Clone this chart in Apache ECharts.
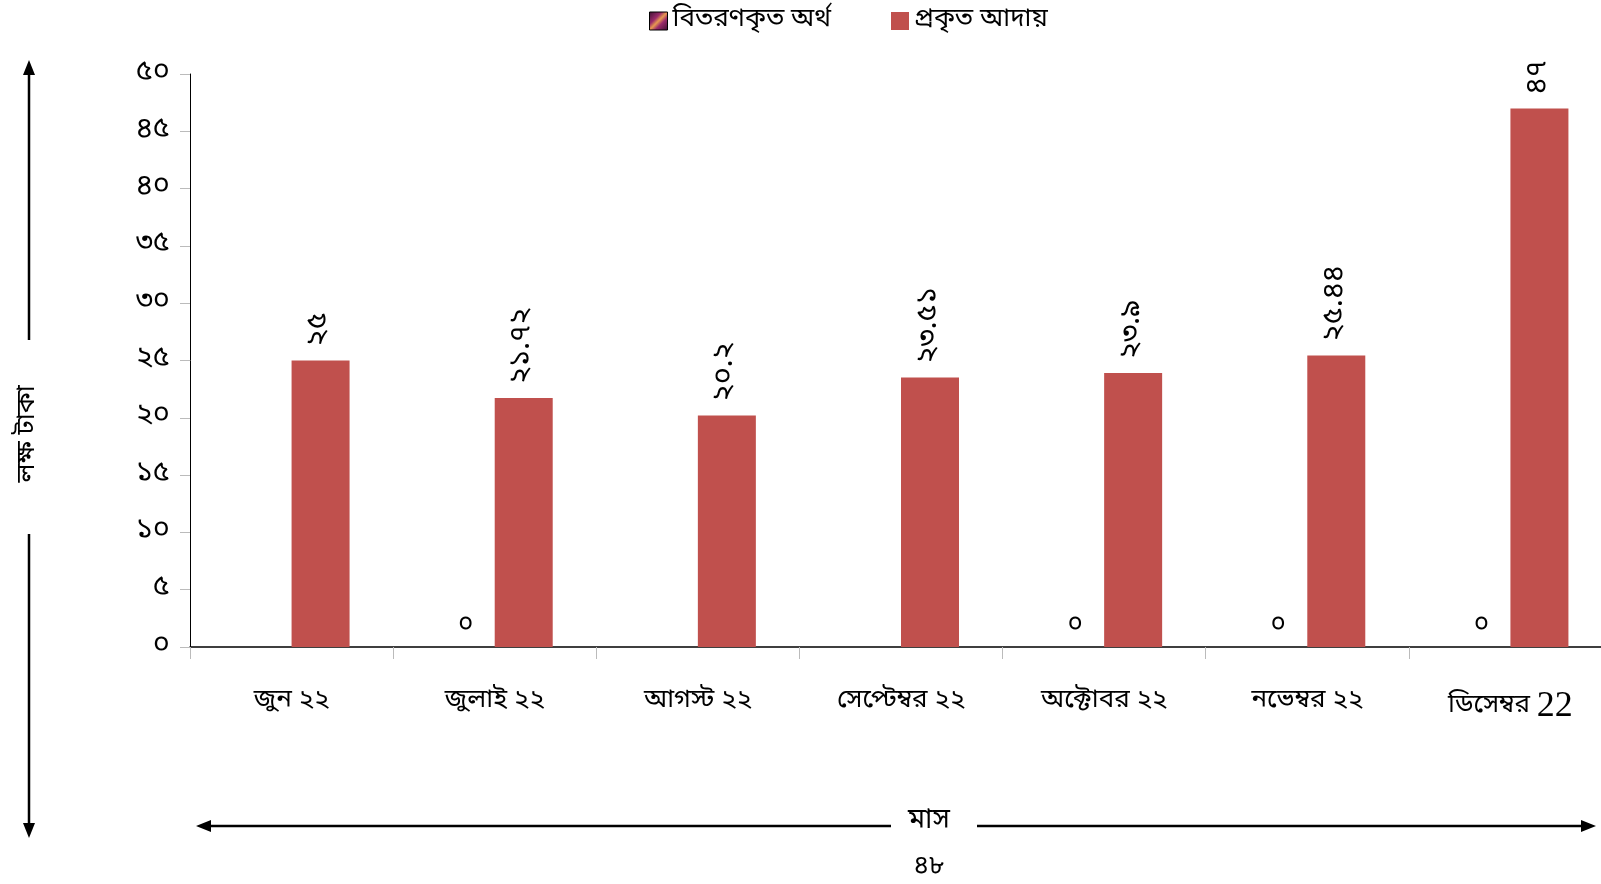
<!DOCTYPE html>
<html>
<head>
<meta charset="utf-8">
<script src="https://cdn.jsdelivr.net/npm/echarts@6/dist/echarts.min.js"></script>
<style>
  html, body { margin: 0; padding: 0; background: #fff; }
  #main { width: 1601px; height: 884px; }
</style>
</head>
<body>
<div id="main"></div>
<script>
// মাস (categories)
var months = ['জুন ২২', 'জুলাই ২২', 'আগস্ট ২২', 'সেপ্টেম্বর ২২', 'অক্টোবর ২২', 'নভেম্বর ২২', 'ডিসেম্বর 22'];
// বিতরণকৃত অর্থ - null where no label is shown
var disbursed = [null, 0, null, null, 0, 0, 0];
// প্রকৃত আদায়
var collected = [25, 21.72, 20.2, 23.51, 23.9, 25.44, 47];
// y tick labels (0..50 step 5)
var yTicks = ['০', '৫', '১০', '১৫', '২০', '২৫', '৩০', '৩৫', '৪০', '৪৫', '৫০'];

var BN = '"Noto Sans Bengali", "Lohit Bengali", "Noto Sans", sans-serif';
var bnDigits = ['০', '১', '২', '৩', '৪', '৫', '৬', '৭', '৮', '৯'];
function toBn(v) {
    return String(v).replace(/[0-9]/g, function (d) { return bnDigits[+d]; });
}

var chart = echarts.init(document.getElementById('main'));

var iconGrad = new echarts.graphic.LinearGradient(0, 0, 1, 1, [
    { offset: 0, color: '#3a1030' },
    { offset: 0.35, color: '#9a2a6a' },
    { offset: 0.5, color: '#e89a50' },
    { offset: 0.65, color: '#9a2a6a' },
    { offset: 1, color: '#3a1030' }
]);

chart.setOption({
    animation: false,
    backgroundColor: '#fff',
    legend: {
        top: 3,
        left: 644,
        itemWidth: 18,
        itemHeight: 18,
        itemGap: 60,
        icon: 'rect',
        textStyle: { fontFamily: BN, fontSize: 26, color: '#000' },
        data: [
            { name: 'বিতরণকৃত অর্থ', itemStyle: { color: iconGrad, borderColor: '#000', borderWidth: 1 } },
            { name: 'প্রকৃত আদায়' }
        ]
    },
    // plot runs a little past the right edge of the picture, as in the source
    grid: { left: 190, width: 1422, top: 74, bottom: 237, containLabel: false, outerBoundsMode: 'none' },
    xAxis: {
        type: 'category',
        data: months,
        axisLine: { lineStyle: { color: '#000', width: 1.5 } },
        axisTick: { show: true, interval: 0, length: 12, lineStyle: { color: '#bbb' } },
        axisLabel: {
            interval: 0,
            margin: 42,
            fontFamily: BN,
            fontSize: 26,
            color: '#000',
            formatter: function (v) {
                return v.replace(/22$/, '{big|22}');
            },
            rich: { big: { fontFamily: '"Liberation Serif", serif', fontSize: 36, color: '#000' } }
        }
    },
    yAxis: {
        type: 'value',
        min: 0,
        max: 50,
        interval: 5,
        splitLine: { show: false },
        axisLine: { show: true, lineStyle: { color: '#000', width: 1 } },
        axisTick: { show: true, length: 10, lineStyle: { color: '#bbb' } },
        axisLabel: {
            margin: 20,
            fontFamily: BN,
            fontSize: 29,
            color: '#000',
            formatter: function (v) { return yTicks[Math.round(v / 5)]; }
        }
    },
    series: [
        {
            name: 'বিতরণকৃত অর্থ',
            type: 'bar',
            data: disbursed,
            barWidth: 58,
            barGap: '0%',
            itemStyle: { color: '#7a2a5a' },
            label: {
                show: true,
                position: 'top',
                distance: 8,
                fontFamily: BN,
                fontSize: 26,
                color: '#000',
                formatter: function (p) { return toBn(p.value); }
            }
        },
        {
            name: 'প্রকৃত আদায়',
            type: 'bar',
            data: collected,
            barWidth: 58,
            itemStyle: { color: '#C0504D' },
            label: {
                show: true,
                position: 'top',
                rotate: 90,
                align: 'left',
                verticalAlign: 'middle',
                distance: 14,
                fontFamily: BN,
                fontSize: 29,
                color: '#000',
                formatter: function (p) { return toBn(p.value); }
            }
        }
    ],
    graphic: [
        // vertical arrow (লক্ষ টাকা)
        { type: 'line', shape: { x1: 29, y1: 72, x2: 29, y2: 340 }, style: { stroke: '#000', lineWidth: 2.5 } },
        { type: 'polygon', shape: { points: [[29, 60], [23, 75], [35, 75]] }, style: { fill: '#000' } },
        { type: 'line', shape: { x1: 29, y1: 534, x2: 29, y2: 826 }, style: { stroke: '#000', lineWidth: 2.5 } },
        { type: 'polygon', shape: { points: [[29, 838], [23, 823], [35, 823]] }, style: { fill: '#000' } },
        {
            type: 'text', x: 29, y: 434, rotation: Math.PI / 2,
            style: { text: 'লক্ষ টাকা', fontFamily: BN, fontSize: 26, fill: '#000', align: 'center', verticalAlign: 'middle' }
        },
        // horizontal arrow (মাস)
        { type: 'line', shape: { x1: 208, y1: 826, x2: 891, y2: 826 }, style: { stroke: '#000', lineWidth: 2.5 } },
        { type: 'polygon', shape: { points: [[196, 826], [211, 820], [211, 832]] }, style: { fill: '#000' } },
        { type: 'line', shape: { x1: 977, y1: 826, x2: 1584, y2: 826 }, style: { stroke: '#000', lineWidth: 2.5 } },
        { type: 'polygon', shape: { points: [[1596, 826], [1581, 820], [1581, 832]] }, style: { fill: '#000' } },
        {
            type: 'text', x: 929, y: 823,
            style: { text: 'মাস', fontFamily: BN, fontSize: 28, fill: '#000', align: 'center', verticalAlign: 'middle' }
        },
        {
            type: 'text', x: 929, y: 868,
            style: { text: '৪৮', fontFamily: BN, fontSize: 26, fill: '#000', align: 'center', verticalAlign: 'middle' }
        }
    ]
});
</script>
</body>
</html>
